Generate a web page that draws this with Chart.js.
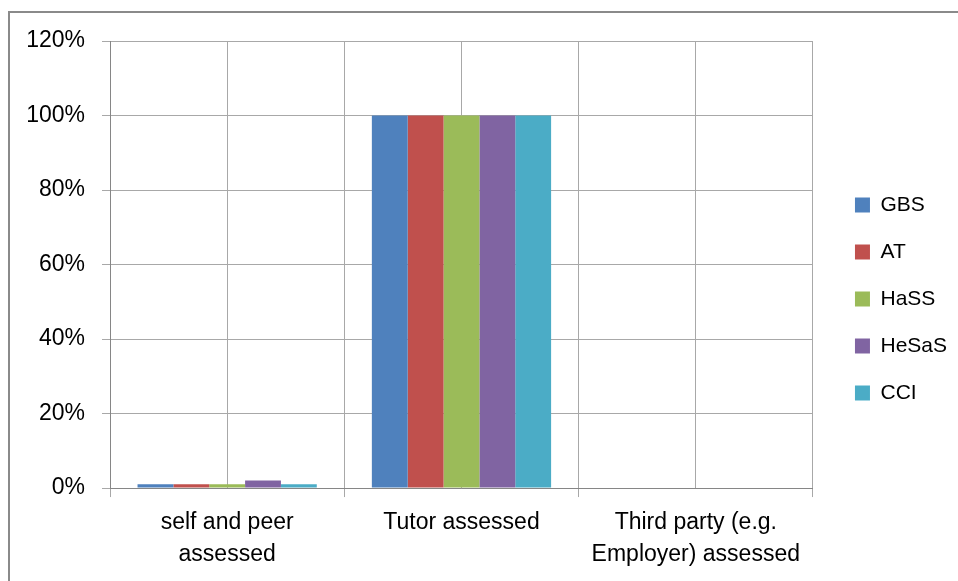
<!DOCTYPE html>
<html>
<head>
<meta charset="utf-8">
<script src="https://cdn.jsdelivr.net/npm/chart.js@4.4.0/dist/chart.umd.min.js"></script>
<style>
  html, body { margin: 0; padding: 0; background: #ffffff; }
  #wrap { width: 958px; height: 581px; position: relative; }
</style>
</head>
<body>
<div id="wrap"><canvas id="c" width="958" height="581"></canvas></div>
<script>
// Assessment type by faculty (share of modules)
const categories = [["self and peer", "assessed"], "Tutor assessed", ["Third party (e.g.", "Employer) assessed"]];
const seriesNames = ["GBS", "AT", "HaSS", "HeSaS", "CCI"];
const gbs   = [0.01, 1.00, 0];
const at    = [0.01, 1.00, 0];
const hass  = [0.01, 1.00, 0];
const hesas = [0.02, 1.00, 0];
const cci   = [0.01, 1.00, 0];
const yTicks = [0, 0.2, 0.4, 0.6, 0.8, 1.0, 1.2];

const seriesValues = [gbs, at, hass, hesas, cci];
const seriesColors = ["#4F81BD", "#C0504D", "#9BBB59", "#8064A2", "#4BACC6"];

Chart.defaults.font.family = "'Liberation Sans', Arial, sans-serif";
Chart.defaults.font.size = 22;
Chart.defaults.color = "#000000";

const GRID = "#a8a8a8";
const AXIS = "#868686";

// Outer frame of the chart object
const framePlugin = {
  id: "frame",
  beforeDraw(chart) {
    const ctx = chart.ctx;
    ctx.save();
    ctx.fillStyle = "#ffffff";
    ctx.fillRect(0, 0, chart.width, chart.height);
    ctx.strokeStyle = "#8a8a8a";
    ctx.lineWidth = 2;
    ctx.beginPath();
    ctx.moveTo(9, chart.height);
    ctx.lineTo(9, 12);
    ctx.lineTo(chart.width, 12);
    ctx.stroke();
    ctx.restore();
  }
};

// Push the legend a little away from the plot area
const legendOffset = {
  id: "legendOffset",
  afterLayout(chart) {
    const lg = chart.legend;
    if (!lg) return;
    lg.left += 16; lg.right += 16;
    lg.top -= 12; lg.bottom -= 12;
  }
};

new Chart(document.getElementById("c"), {
  type: "bar",
  data: {
    labels: categories,
    datasets: seriesNames.map((name, i) => ({
      label: name,
      data: seriesValues[i],
      backgroundColor: seriesColors[i],
      borderWidth: 0,
      barPercentage: 1.0,
      categoryPercentage: 0.765,
      xAxisID: "x",
      yAxisID: "y"
    }))
  },
  options: {
    responsive: false,
    animation: false,
    events: [],
    layout: { padding: { top: 41, right: 17, bottom: 0, left: 0 } },
    plugins: {
      tooltip: { enabled: false },
      legend: {
        position: "right",
        labels: {
          boxWidth: 15,
          boxHeight: 15,
          padding: 26,
          font: { size: 21 },
          color: "#000000"
        }
      }
    },
    scales: {
      x: {
        type: "category",
        position: "bottom",
        offset: true,
        grid: { offset: true, color: GRID, tickLength: 9, tickColor: GRID },
        border: { color: AXIS, width: 1 },
        ticks: { padding: 10, font: { size: 23, lineHeight: 1.39 }, color: "#000000", maxRotation: 0, autoSkip: false }
      },
      xMid: {
        type: "category",
        position: "top",
        offset: true,
        grid: { offset: false, color: GRID, drawTicks: false },
        border: { display: false },
        ticks: { display: false }
      },
      y: {
        min: 0,
        max: 1.2,
        position: "left",
        grid: { color: GRID, tickLength: 8, tickColor: GRID },
        border: { color: AXIS, width: 1 },
        afterBuildTicks(scale) { scale.ticks = yTicks.map(v => ({ value: v })); },
        afterFit(scale) { scale.width = 110; },
        ticks: {
          padding: 17,
          font: { size: 23 },
          color: "#000000",
          callback: v => Math.round(v * 100) + "%"
        }
      }
    }
  },
  plugins: [framePlugin, legendOffset]
});
</script>
</body>
</html>
